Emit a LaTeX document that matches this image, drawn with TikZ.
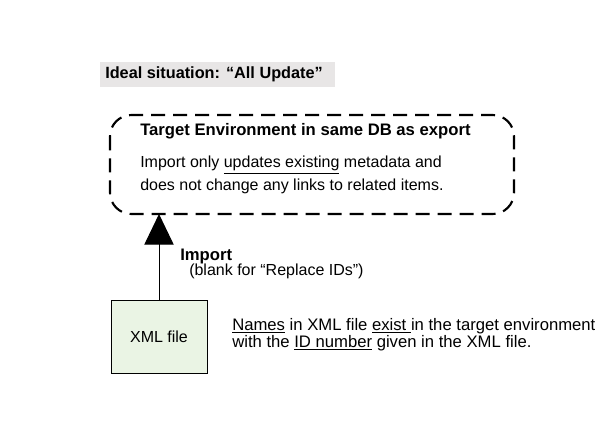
\documentclass[tikz,border=0pt]{standalone}
\usepackage{fontspec}
\setmainfont{Liberation Sans}
\usetikzlibrary{arrows.meta}

\definecolor{titlegray}{RGB}{232,230,230}
\definecolor{filegreen}{RGB}{234,244,228}

\begin{document}
\begin{tikzpicture}[x=0.75pt, y=-0.75pt,
  every node/.style={font=\fontsize{12}{15}\selectfont, inner sep=0pt},
  txt/.style={anchor=west, align=left},
  envbox/.style={draw, line width=1.6pt, rounded corners=16pt, dash pattern=on 10.5pt off 6pt},
  filebox/.style={draw, fill=filegreen, minimum width=72pt, minimum height=55pt}]
            \useasboundingbox (0,0) rectangle (599,437);
            \fill[titlegray] (100,62) rectangle (335,87);
            \node[txt, font=\fontsize{12.2}{15}\selectfont\bfseries] (title) at (105,74) {Ideal situation: “All Update”};

            \draw[envbox] (110,115) rectangle (514,214);
            \coordinate (target) at (159,214);
            \node[txt, font=\fontsize{12.5}{15}\selectfont\bfseries] (head) at (140,131) {Target Environment in same DB as export};
            \node[txt] (body1) at (140,165) {Import only \underline{updates existing} metadata and};
            \node[txt] (body2) at (140,186) {does not change any links to related items.};

            \node[filebox] (xml) at (159,336.5) {XML file};
            \draw[-{Triangle[width=22pt, length=23pt]}, line width=0.75pt] (xml.north) -- (target);

            \node[txt, font=\fontsize{12.5}{15}\selectfont\bfseries] (imp) at (180,256) {Import};
            \node[txt] (blank) at (189,271) {(blank for “Replace IDs”)};

            \node[txt, font=\fontsize{12.5}{15}\selectfont] (names1) at (232,326) {\underline{Names} in XML file \underline{exist\ }in the target environment};
            \node[txt, font=\fontsize{12.5}{15}\selectfont] (names2) at (232,343) {with the \underline{ID number} given in the XML file.};
        \end{tikzpicture}
\end{document}
